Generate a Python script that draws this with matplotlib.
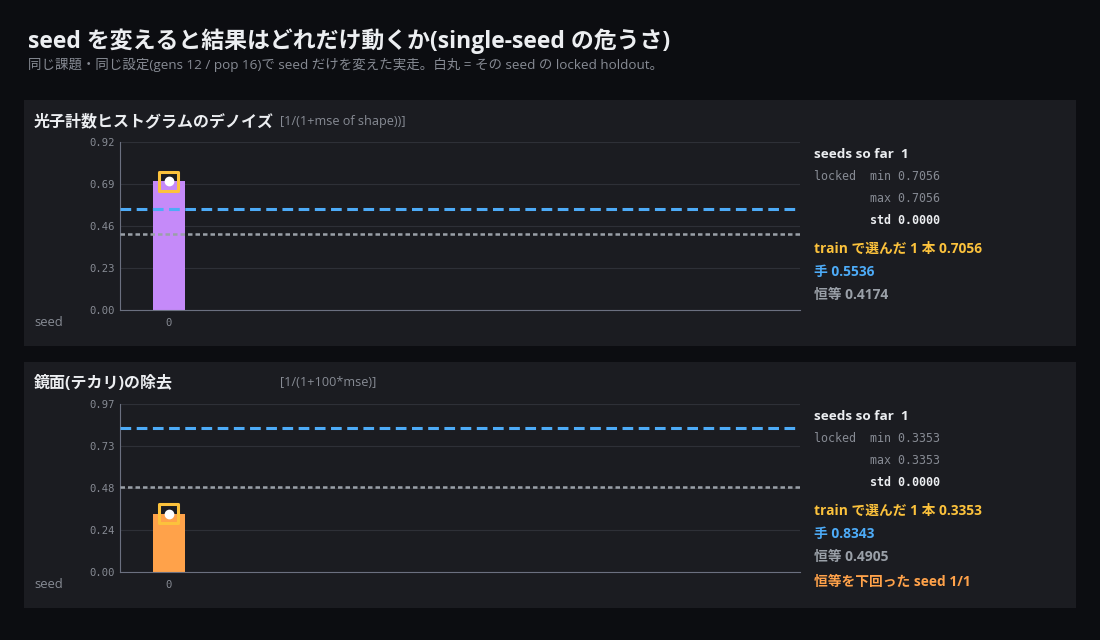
import numpy as np
import matplotlib
matplotlib.use("Agg")
import matplotlib.pyplot as plt

plt.rcParams['font.family'] = ['Open Sans', 'Noto Sans CJK JP', 'DejaVu Sans']

# data
panel_titles = ["光子計数ヒストグラムのデノイズ", "鏡面(テカリ)の除去"]
panel_metrics = ["[1/(1+mse of shape))]", "[1/(1+100*mse)]"]
seeds = [0]
locked = [[0.7056], [0.3353]]
train_pick = [[0.7056], [0.3353]]
hand = [0.5536, 0.8343]
identity = [0.4174, 0.4905]
ymax = [0.92, 0.97]
bar_colors = ["#c58af9", "#ffa24a"]

W, H = 1100, 640
BG = "#0c0d11"
PANEL = "#1b1c21"
WHITE = "#eceef1"
GRAY = "#878b94"
MONO = "DejaVu Sans Mono"

fig = plt.figure(figsize=(11, 6.4), dpi=100, facecolor=BG)


def fx(x):
    return x / W


def fy(y):
    return 1 - y / H


fig.text(fx(28), fy(41), "seed を変えると結果はどれだけ動くか(single-seed の危うさ)",
         color=WHITE, fontsize=16.5, fontweight="bold", va="center")
fig.text(fx(28), fy(65), "同じ課題・同じ設定(gens 12 / pop 16)で seed だけを変えた実走。白丸 = その seed の locked holdout。",
         color=GRAY, fontsize=9.7, va="center")

for i in range(2):
    top = 100 + i * 262
    bg = fig.add_axes([fx(24), fy(top + 246), fx(1052), 246 / H], zorder=0)
    bg.set_facecolor(PANEL)
    bg.set_xticks([])
    bg.set_yticks([])
    for s in bg.spines.values():
        s.set_visible(False)

    fig.text(fx(34), fy(top + 22), panel_titles[i], color=WHITE, fontsize=11.5,
             fontweight="bold", va="center")
    fig.text(fx(280), fy(top + 21), panel_metrics[i], color=GRAY, fontsize=9.1, va="center")
    fig.text(fx(34), fy(top + 223), "seed", color=GRAY, fontsize=9.4, va="center")

    ax = fig.add_axes([fx(120), fy(top + 210), fx(680), 168 / H], zorder=1)
    ax.set_facecolor(PANEL)
    ax.set_xlim(-1, 13)
    ax.set_ylim(0, ymax[i])
    ticks = np.linspace(0, ymax[i], 5)
    ax.set_yticks(ticks)
    ax.set_yticklabels(["%.2f" % t for t in ticks], fontfamily=MONO, fontsize=7.6, color=GRAY)
    ax.set_xticks(seeds)
    ax.set_xticklabels([str(s) for s in seeds], fontfamily=MONO, fontsize=7.6, color=GRAY)
    ax.tick_params(axis="y", length=0, pad=3.5)
    ax.tick_params(axis="x", length=0, pad=6)
    ax.grid(axis="y", color="#2e3037", linewidth=0.8)
    ax.set_axisbelow(True)
    for s in ["top", "right"]:
        ax.spines[s].set_visible(False)
    for s in ["left", "bottom"]:
        ax.spines[s].set_color("#6b7080")
        ax.spines[s].set_linewidth(0.8)

    ax.bar(seeds, locked[i], width=0.66, color=bar_colors[i], zorder=2)
    ax.axhline(hand[i], color="#4dabf7", linestyle=(0, (3.5, 1.8)), linewidth=2.2, zorder=3)
    ax.axhline(identity[i], color="#9aa0a8", linestyle=(0, (1.8, 1.2)), linewidth=1.8, zorder=3)
    ax.scatter(seeds, train_pick[i], marker="s", s=190,
               facecolors="none", edgecolors="#fcc23c", linewidths=2.2, zorder=4)
    ax.scatter(seeds, locked[i], s=36, color="white", zorder=5)

    # side stats
    tx = fx(814)
    fig.text(tx, fy(top + 55), "seeds so far  %d" % len(seeds), color=WHITE, fontsize=9.7,
             fontweight="bold", va="center")
    fig.text(tx, fy(top + 76), "locked  min %.4f" % min(locked[i]), color=GRAY, fontsize=8.4,
             fontfamily=MONO, va="center")
    fig.text(tx, fy(top + 98), "        max %.4f" % max(locked[i]), color=GRAY, fontsize=8.4,
             fontfamily=MONO, va="center")
    fig.text(tx, fy(top + 120), "        std %.4f" % np.std(locked[i]), color=WHITE, fontsize=8.4,
             fontfamily=MONO, fontweight="bold", va="center")
    fig.text(tx, fy(top + 149), "train で選んだ 1 本 %.4f" % train_pick[i][0], color="#fcc23c",
             fontsize=9.9, fontweight="bold", va="center")
    fig.text(tx, fy(top + 172), "手 %.4f" % hand[i], color="#4dabf7", fontsize=9.9,
             fontweight="bold", va="center")
    fig.text(tx, fy(top + 195), "恒等 %.4f" % identity[i], color="#9aa0a8", fontsize=9.9,
             fontweight="bold", va="center")
    below = sum(1 for v in locked[i] if v < identity[i])
    if below > 0:
        fig.text(tx, fy(top + 220), "恒等を下回った seed %d/%d" % (below, len(seeds)),
                 color="#ffa24a", fontsize=9.9, fontweight="bold", va="center")

fig.savefig("out.png", dpi=100, facecolor=BG)
